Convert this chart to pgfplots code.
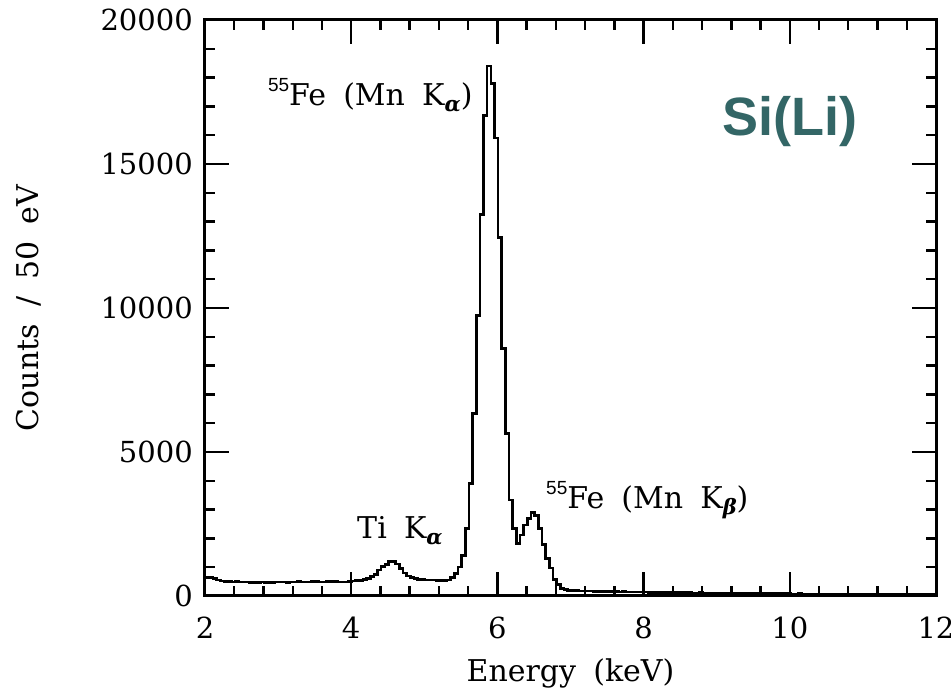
\documentclass[border=0pt]{standalone}
\usepackage{fontspec}
\setmainfont{DejaVu Serif}[WordSpace=1.8]
\newfontfamily\supfont{Liberation Sans}
\usepackage{pgfplots}
\pgfplotsset{compat=1.18}
\usepackage{pgfplotstable}
\definecolor{sili}{RGB}{51,102,102}

\pgfplotstableread{
E c
1.96 650
2.01 650
2.06 640
2.11 610
2.16 560
2.21 520
2.26 505
2.31 495
2.36 490
2.41 500
2.46 490
2.51 480
2.56 485
2.61 478
2.66 470
2.71 475
2.76 482
2.81 476
2.86 470
2.91 478
2.96 485
3.01 490
3.06 483
3.11 476
3.16 480
3.21 488
3.26 495
3.31 490
3.36 482
3.41 486
3.46 494
3.51 500
3.56 492
3.61 486
3.66 495
3.71 505
3.76 498
3.81 490
3.86 485
3.91 492
3.96 500
4.01 520
4.06 530
4.11 545
4.16 580
4.21 610
4.26 680
4.31 750
4.36 900
4.41 1020
4.46 1100
4.51 1190
4.56 1200
4.61 1110
4.66 950
4.71 800
4.76 690
4.81 640
4.86 610
4.91 580
4.96 565
5.01 560
5.06 555
5.11 550
5.16 540
5.21 530
5.26 530
5.31 560
5.36 640
5.41 780
5.46 1000
5.51 1400
5.56 2340
5.61 3910
5.66 6330
5.71 9730
5.76 13250
5.81 16680
5.86 18400
5.91 17800
5.96 15900
6.01 12450
6.06 8600
6.11 5640
6.16 3330
6.21 2350
6.26 1830
6.31 2120
6.36 2470
6.41 2700
6.46 2900
6.51 2800
6.56 2350
6.61 1780
6.66 1310
6.71 970
6.76 570
6.81 390
6.86 260
6.91 220
6.96 200
7.01 190
7.06 182
7.11 176
7.16 172
7.21 168
7.26 170
7.31 162
7.36 158
7.41 160
7.46 155
7.51 150
7.56 152
7.61 148
7.66 144
7.71 146
7.76 141
7.81 138
7.86 140
7.91 136
7.96 132
8.01 134
8.06 130
8.11 127
8.16 129
8.21 125
8.26 122
8.31 124
8.36 120
8.41 117
8.46 119
8.51 115
8.56 112
8.61 114
8.66 110
8.71 108
8.76 111
8.81 106
8.86 103
8.91 105
8.96 101
9.01 99
9.06 102
9.11 97
9.16 95
9.21 98
9.26 93
9.31 91
9.36 94
9.41 89
9.46 87
9.51 90
9.56 85
9.61 84
9.66 87
9.71 82
9.76 80
9.81 83
9.86 78
9.91 77
9.96 80
10.01 75
10.06 74
10.11 77
10.16 72
10.21 70
10.26 74
10.31 69
10.36 68
10.41 71
10.46 66
10.51 65
10.56 69
10.61 64
10.66 62
10.71 66
10.76 61
10.81 60
10.86 63
10.91 58
10.96 57
11.01 61
11.06 56
11.11 55
11.16 59
11.21 54
11.26 53
11.31 57
11.36 52
11.41 51
11.46 55
11.51 50
11.56 49
11.61 53
11.66 48
11.71 47
11.76 51
11.81 46
11.86 45
11.91 49
11.96 44
12.01 44
}\spectrum

\newcommand{\iso}{\raisebox{14pt}{\supfont\fontsize{19}{19}\selectfont 55}}
\newcommand{\gsub}[1]{\raisebox{-6pt}{\fontsize{21}{21}\selectfont\bfseries\itshape #1}}

\begin{document}
\begin{tikzpicture}
\begin{axis}[name=ax, scale only axis, width=731pt, height=576pt,
  xmin=2, xmax=12, ymin=0, ymax=20000,
  scaled x ticks=false, scaled y ticks=false,
  xtick={2,4,6,8,10,12}, xticklabels={2,4,6,8,10,12},
  ytick={0,5000,10000,15000,20000}, yticklabels={0,5000,10000,15000,20000},
  minor x tick num=4, minor y tick num=4,
  tick align=inside, major tick length=24pt, minor tick length=10pt,
  axis line style={line width=3pt},
  every tick/.style={black, line width=2.4pt},
  ticklabel style={font=\fontsize{29}{29}\selectfont, inner sep=0pt},
  xticklabel style={yshift=-21pt},
  yticklabel style={xshift=-12pt},
  xlabel={Energy (keV)}, ylabel={Counts / 50 eV},
  label style={font=\fontsize{30}{30}\selectfont, inner sep=0pt},
  xlabel style={at={(axis description cs:0.5,-0.1476)}, anchor=base},
  ylabel style={at={(axis description cs:-0.2408,0.5)}, anchor=center},
]
\addplot[const plot, black, line width=2.6pt] table[x=E, y=c] {\spectrum};

\node[anchor=base west, inner sep=0pt, font=\fontsize{30}{30}\selectfont]
  at (axis cs:2.86,17014) {\iso Fe (Mn K\gsub{α})};
\node[anchor=base west, inner sep=0pt, font=\fontsize{30}{30}\selectfont]
  at (axis cs:4.08,1979) {Ti K\gsub{α}};
\node[anchor=base west, inner sep=0pt, font=\fontsize{30}{30}\selectfont]
  at (axis cs:6.665,3055) {\iso Fe (Mn K\gsub{β})};
\node[anchor=center, inner sep=0pt, text=sili, font=\supfont\bfseries\fontsize{54}{54}\selectfont]
  at (axis cs:10.0,16458) {Si(Li)};
\end{axis}
\pgfresetboundingbox
\path[use as bounding box] ([shift={(-205pt,-93pt)}]ax.south west) rectangle ([shift={(15pt,20pt)}]ax.north east);
\end{tikzpicture}
\end{document}
